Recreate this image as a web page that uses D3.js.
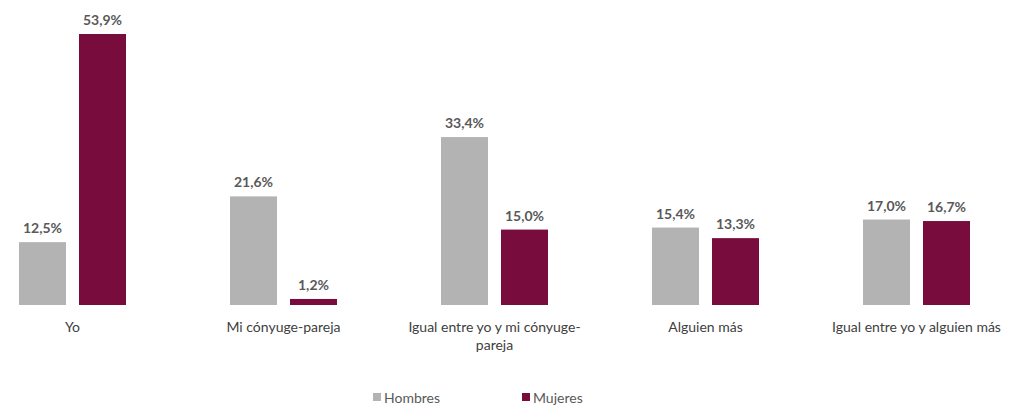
<!DOCTYPE html>
<html><head><meta charset="utf-8">
<script src="https://cdn.jsdelivr.net/npm/d3@7"></script>
<style>body{margin:0;background:#fff}svg{display:block}</style>
</head><body><svg id="c" width="1011" height="410"></svg>
<script>
const categories = [["Yo"],["Mi cónyuge-pareja"],["Igual entre yo y mi cónyuge-","pareja"],["Alguien más"],["Igual entre yo y alguien más"]];
const series = ["Hombres","Mujeres"];
const hombres = [12.5, 21.6, 33.4, 15.4, 17.0];
const mujeres = [53.9, 1.2, 15.0, 13.3, 16.7];
const colors = ["#b3b3b3","#780c3c"];
const fmt = v => v.toFixed(1).replace(".", ",") + "%";

const svg = d3.select("#c");
const font = "Lato, 'Open Sans', sans-serif";
const baseY = 305, topY = 34;
const x = d3.scaleBand().domain(d3.range(categories.length)).range([-33, 1022]).padding(0);
const xs = d3.scaleBand().domain(series).range([0, 107]).paddingInner(13/60);
const y = d3.scaleLinear().domain([0, 53.9]).range([baseY, topY]);
const data = [hombres, mujeres];

const g = svg.append("g");
categories.forEach((c, i) => {
  const gx = x(i) + x.bandwidth()/2 - 53.5;
  series.forEach((s, j) => {
    const v = data[j][i];
    g.append("rect").attr("x", gx + xs(s)).attr("width", xs.bandwidth())
      .attr("y", y(v)).attr("height", baseY - y(v)).attr("fill", colors[j]);
    g.append("text").attr("x", gx + xs(s) + xs.bandwidth()/2).attr("y", y(v) - 9)
      .attr("text-anchor","middle").attr("font-family", font).attr("font-weight","bold")
      .attr("font-size", 14).attr("fill","#595959").text(fmt(v));
  });
  const t = g.append("text").attr("text-anchor","middle").attr("font-family", font)
    .attr("font-size", 14).attr("fill","#404040");
  c.forEach((line, k) => {
    t.append("tspan").attr("x", x(i) + x.bandwidth()/2).attr("y", 332 + k*18).text(line);
  });
});

const leg = svg.append("g");
const legX = [373, 522];
series.forEach((s, j) => {
  leg.append("rect").attr("x", legX[j]).attr("y", 393).attr("width", 8).attr("height", 8).attr("fill", colors[j]);
  leg.append("text").attr("x", legX[j] + 11).attr("y", 403).attr("font-family", font)
    .attr("font-size", 14).attr("fill","#595959").text(s);
});
</script></body></html>
